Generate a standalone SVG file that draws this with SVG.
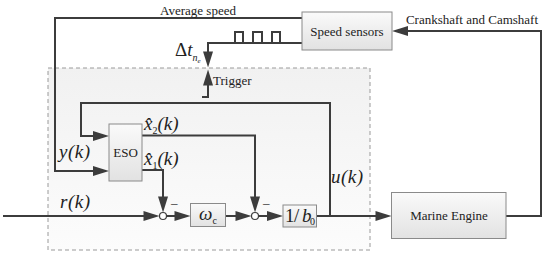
<svg xmlns="http://www.w3.org/2000/svg" xmlns:xlink="http://www.w3.org/1999/xlink" width="550" height="259" viewBox="0 0 550 259">
<defs>
<linearGradient id="boxg" x1="0" y1="0" x2="0" y2="1">
<stop offset="0" stop-color="#fafafa"/>
<stop offset="1" stop-color="#e2e2e2"/>
</linearGradient>
<linearGradient id="regg" x1="0" y1="0" x2="0" y2="1">
<stop offset="0" stop-color="#f1f1f1"/>
<stop offset="1" stop-color="#fcfcfc"/>
</linearGradient>
<path id="ah" d="M-16,-5 L0,0 L-16,5 z"/>
</defs>
<style>
.box{fill:url(#boxg);stroke:#8a8a8a;stroke-width:1}
.wire{fill:none;stroke:#3c3c3c;stroke-width:2}
.head{fill:#3c3c3c;stroke:none}
.lbl{font-family:"Liberation Serif","Times New Roman",serif;font-size:13px;fill:#222}
.math{font-family:"Liberation Serif","Times New Roman",serif;font-style:italic;font-size:19px;fill:#222}
.sub{font-style:normal;font-size:10px}
.sum{fill:#fff;stroke:#3c3c3c;stroke-width:1.2}
</style>
<g id="controller-region">
<rect x="48" y="68" width="322" height="182" fill="url(#regg)" stroke="#9a9a9a" stroke-width="1" stroke-dasharray="4 3"/>
</g>
<g id="connectors">
<path class="wire" d="M302,18 H55 V171 H100"/>
<path class="wire" d="M330,216 V103 H81 V136 H100"/>
<path class="wire" d="M142,135.5 H255 V204"/>
<path class="wire" d="M142,170 H163 V204"/>
<path class="wire" d="M3,216 H151"/>
<path class="wire" d="M166.5,216 H182"/>
<path class="wire" d="M225.5,216 H243"/>
<path class="wire" d="M258.5,216 H275"/>
<path class="wire" d="M316.5,216 H383"/>
<path class="wire" d="M506,216 H541 V31 H400"/>
<path class="wire" d="M302,43 H208 V59"/>
<path class="wire" d="M202,97 H208 V78"/>
<path class="wire" d="M225,43 H235 V32 H243 V43 H253 V32 H262 V43 H272 V32 H280 V43 H290"/>
<use xlink:href="#ah" class="head" transform="translate(109,171)"/>
<use xlink:href="#ah" class="head" transform="translate(109,136)"/>
<use xlink:href="#ah" class="head" transform="translate(255,212.5) rotate(90)"/>
<use xlink:href="#ah" class="head" transform="translate(163,212.5) rotate(90)"/>
<use xlink:href="#ah" class="head" transform="translate(159.5,216)"/>
<use xlink:href="#ah" class="head" transform="translate(190.5,216)"/>
<use xlink:href="#ah" class="head" transform="translate(251.5,216)"/>
<use xlink:href="#ah" class="head" transform="translate(283,216)"/>
<use xlink:href="#ah" class="head" transform="translate(391.5,216)"/>
<use xlink:href="#ah" class="head" transform="translate(392,31) rotate(180)"/>
<use xlink:href="#ah" class="head" transform="translate(208,67.5) rotate(90)"/>
<use xlink:href="#ah" class="head" transform="translate(208,69.5) rotate(-90)"/>
</g>
<g id="speed-sensors">
<rect class="box" x="302" y="12" width="90" height="38"/>
<text class="lbl" x="347" y="35.5" text-anchor="middle">Speed sensors</text>
</g>
<g id="eso">
<rect class="box" x="109" y="124" width="33" height="57"/>
<text class="lbl" x="125.5" y="156.5" text-anchor="middle" font-size="12">ESO</text>
</g>
<g id="sum1">
<circle class="sum" cx="163" cy="216" r="3.5"/>
<text class="lbl" x="171" y="207" font-size="14">–</text>
</g>
<g id="omega-c">
<rect class="box" x="190.5" y="203.5" width="35" height="23"/>
<text class="math" x="199" y="220" font-size="20">ω<tspan class="sub" font-size="9" dy="4">c</tspan></text>
</g>
<g id="sum2">
<circle class="sum" cx="255" cy="216" r="3.5"/>
<text class="lbl" x="263" y="207" font-size="14">–</text>
</g>
<g id="inv-b0">
<rect class="box" x="283" y="205" width="33.5" height="22"/>
<text class="math" y="222" font-size="18"><tspan x="285" font-style="normal">1</tspan><tspan x="294" font-style="normal">/</tspan><tspan x="302">b</tspan><tspan class="sub" x="310" dy="3">0</tspan></text>
</g>
<g id="marine-engine">
<rect class="box" x="391.5" y="192.5" width="114.5" height="46"/>
<text class="lbl" x="449" y="220" text-anchor="middle">Marine Engine</text>
</g>
<g id="labels">
<text class="lbl" x="198" y="15" text-anchor="middle">Average speed</text>
<text class="lbl" x="472" y="24" text-anchor="middle">Crankshaft and Camshaft</text>
<text class="lbl" x="213" y="84.5">Trigger</text>
<text class="math" x="175" y="56" font-size="20"><tspan font-style="normal">Δ</tspan>t<tspan font-size="10" dy="5">n</tspan><tspan font-size="7" dy="2">e</tspan></text>
<text class="math" x="59" y="158" letter-spacing="0.5">y(k)</text>
<text class="math" x="60" y="208" letter-spacing="0.5">r(k)</text>
<text class="math" x="331" y="183" letter-spacing="0.5">u(k)</text>
<text class="math" x="144" y="130">x̂<tspan class="sub" dy="4">2</tspan><tspan dy="-4">(k)</tspan></text>
<text class="math" x="144" y="165">x̂<tspan class="sub" dy="4">1</tspan><tspan dy="-4">(k)</tspan></text>
</g>
</svg>
